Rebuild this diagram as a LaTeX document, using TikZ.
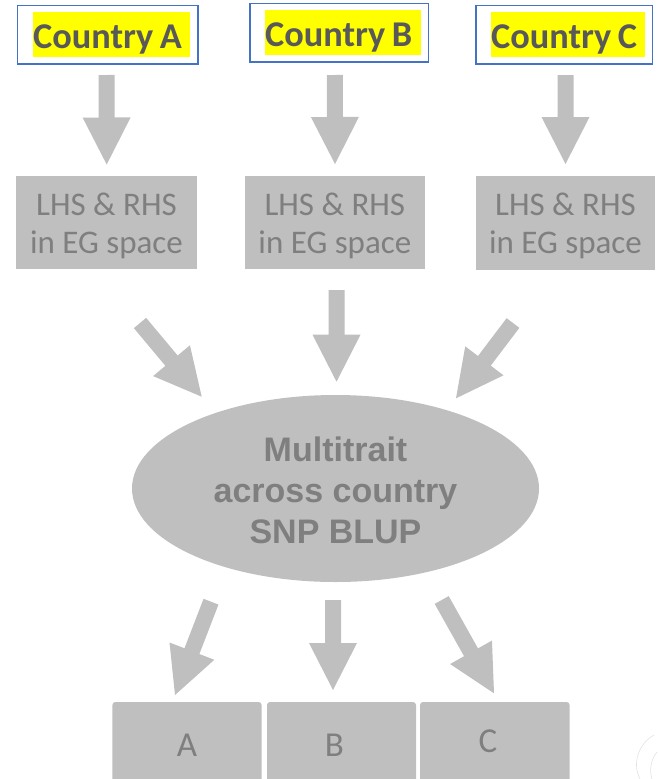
\documentclass[tikz,border=0pt]{standalone}
\usepackage{fontspec}
\setmainfont{Carlito}
\newfontfamily\headfont{Liberation Sans}
\usetikzlibrary{calc,shapes.geometric}

\definecolor{boxgray}{HTML}{BFBFBF}
\definecolor{txtgray}{HTML}{7F7F7F}
\definecolor{darktxt}{HTML}{595959}
\definecolor{outlineblue}{HTML}{4472C4}
\definecolor{hlyellow}{HTML}{FFFF00}
\definecolor{faintgray}{HTML}{E2E2E2}

% thick block arrow from #1 (tail centre) to #2 (tip)
\newcommand\fatarrow[2]{%
  \path ($(#2)!47pt!(#1)$) coordinate (hb);
  \fill[boxgray]
    ($(#1)!8pt!90:(#2)$) -- ($(hb)!8pt!90:(#2)$) -- ($(hb)!24pt!90:(#2)$) --
    (#2) --
    ($(hb)!24pt!-90:(#2)$) -- ($(hb)!8pt!-90:(#2)$) -- ($(#1)!8pt!-90:(#2)$) -- cycle;
}
% narrow word space for the country labels
\newcommand\nsp{\hspace{0.18em}}

\tikzset{
  countrybox/.style={draw=outlineblue, line width=1.3pt, rectangle, inner sep=0pt},
  highlight/.style={fill=hlyellow, inner xsep=0pt, inner ysep=0pt,
    text width=#1, align=left, text height=36.3pt, text depth=8.7pt,
    text=darktxt, font=\fontsize{36.3}{40}\selectfont\bfseries, anchor=base west},
  stagebox/.style={fill=boxgray, text=txtgray, align=center, rectangle,
    inner sep=0pt, font=\fontsize{33}{38}\selectfont},
  core/.style={ellipse, fill=boxgray, text=txtgray, align=center, inner sep=0pt,
    font=\headfont\bfseries\fontsize{34}{41}\selectfont},
  resultbox/.style={fill=boxgray, rectangle, rounded corners=3pt, inner sep=0pt},
  resultlabel/.style={text=txtgray, anchor=base, inner sep=0pt,
    font=\fontsize{35}{40}\selectfont},
  faint/.style={draw=faintgray, line width=0.6pt}
}

\begin{document}
\begin{tikzpicture}[x=1pt, y=-1pt]
\useasboundingbox (0,0) rectangle (657,779);
\clip (0,0) rectangle (657,779);

% country input boxes
\node[countrybox, minimum width=180.4pt, minimum height=58.7pt] (cA) at (107.8,34.65) {};
\node[countrybox, minimum width=178.6pt, minimum height=58.3pt] (cB) at (339.3,32.85) {};
\node[countrybox, minimum width=176.7pt, minimum height=58.3pt] (cC) at (564.35,34.85) {};
\node[highlight=157pt] (hA) at (33,48.3) {Country\nsp A};
\node[highlight=156pt] (hB) at (265,46.3) {Country\nsp B};
\node[highlight=154pt] (hC) at (491,48.3) {Country\nsp C};

% equation systems per country
\node[stagebox, minimum width=181pt, minimum height=93.3pt] (sA) at (106.5,222.35) {};
\node[stagebox, minimum width=180.3pt, minimum height=93.3pt] (sB) at (334.85,222.35) {};
\node[stagebox, minimum width=179pt, minimum height=94.3pt] (sC) at (565.5,222.8) {};
\node[stagebox, fill=none] (tA) at ($(sA)+(0,4)$) {LHS \& RHS\\in EG space};
\node[stagebox, fill=none] (tB) at ($(sB)+(0,4)$) {LHS \& RHS\\in EG space};
\node[stagebox, fill=none] (tC) at ($(sC)+(0,3.5)$) {LHS \& RHS\\in EG space};

% joint evaluation
\node[core, minimum width=407pt, minimum height=187pt] (mt) at (335.5,488.5) {};
\node[core, fill=none] (mtt) at ($(mt)+(0,2)$) {Multitrait\\across country\\SNP BLUP};

% per-country results
\node[resultbox, minimum width=149.2pt, minimum height=100pt] (rA) at (187,752) {};
\node[resultbox, minimum width=149pt, minimum height=100pt] (rB) at (341.5,752) {};
\node[resultbox, minimum width=149.6pt, minimum height=100pt] (rC) at (494.8,752) {};
\node[resultlabel] (lA) at (187,756) {A};
\node[resultlabel] (lB) at (334.5,756) {B};
\node[resultlabel] (lC) at (488,752) {C};

% arrow end points
\coordinate (a1s) at (106.5,75);   \coordinate (a1e) at (106.7,164.5);
\coordinate (a2s) at (334.8,75);   \coordinate (a2e) at (335,164);
\coordinate (a3s) at (565.5,75);   \coordinate (a3e) at (565.5,164);
\coordinate (a4s) at (140,323);    \coordinate (a4e) at (201.7,396.7);
\coordinate (a5s) at (336.5,290);  \coordinate (a5e) at (336.5,381.7);
\coordinate (a6s) at (513,323);    \coordinate (a6e) at (456,398.3);
\coordinate (a7s) at (211,601.7);  \coordinate (a7e) at (175,695);
\coordinate (a8s) at (333,600);    \coordinate (a8e) at (333,690);
\coordinate (a9s) at (441.7,600);  \coordinate (a9e) at (494,693.3);

\fatarrow{a1s}{a1e}
\fatarrow{a2s}{a2e}
\fatarrow{a3s}{a3e}
\fatarrow{a4s}{a4e}
\fatarrow{a5s}{a5e}
\fatarrow{a6s}{a6e}
\fatarrow{a7s}{a7e}
\fatarrow{a8s}{a8e}
\fatarrow{a9s}{a9e}

% faint arcs in the corner
\coordinate (f1) at (654,735);
\coordinate (f2) at (640,779);
\coordinate (f3) at (657,752);
\coordinate (f4) at (652,779);
\draw[faint] (f1) .. controls (638,744) and (632,764) .. (f2);
\draw[faint] (f3) .. controls (651,759) and (649,770) .. (f4);
\end{tikzpicture}
\end{document}
